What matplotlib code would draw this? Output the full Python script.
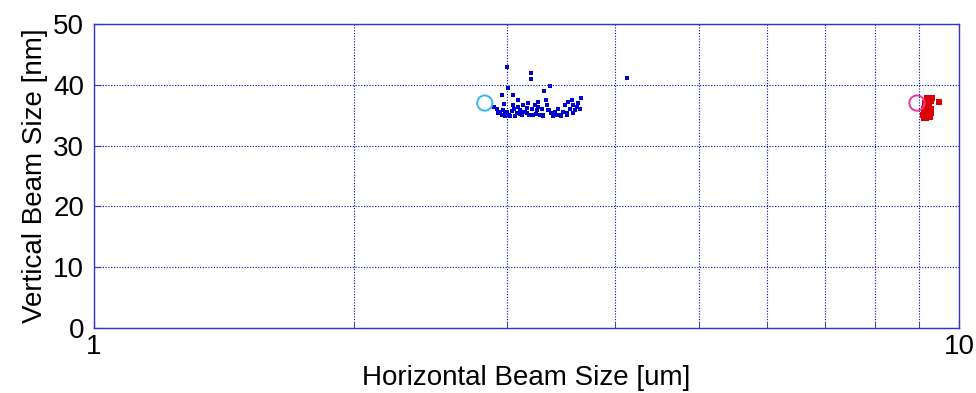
import matplotlib
matplotlib.use("Agg")
import matplotlib.pyplot as plt
from matplotlib.ticker import FixedLocator, NullFormatter, FixedFormatter

plt.rcParams['font.family'] = ['Liberation Sans', 'DejaVu Sans']

# Blue measurement points (horizontal um, vertical nm)
blue_x = [2.901, 2.922, 2.943, 2.961, 2.974, 2.987, 3.000, 3.021, 3.040, 3.048,
          3.059, 3.081, 3.094, 3.108, 3.122, 3.136, 3.150, 3.164, 3.178, 3.187,
          3.206, 3.220, 3.234, 3.249, 3.263, 3.278, 3.292, 3.307, 3.330, 3.342,
          3.360, 3.372, 3.390, 3.411, 3.426, 3.441, 3.463, 3.481, 3.503, 3.518,
          3.534, 3.550, 3.566, 3.582, 3.598, 3.614, 3.630, 3.646,
          3.000, 3.200, 3.200, 4.130, 3.370, 3.010, 2.960, 3.050, 3.310, 3.660,
          2.930, 2.990, 3.030, 3.110, 3.170, 3.240, 3.300, 3.400, 3.450, 3.520,
          3.580, 3.090, 3.140, 3.260, 3.350, 2.980, 3.070]
blue_y = [36.4, 36.1, 35.6, 35.1, 35.9, 34.9, 35.5, 35.0, 35.7, 36.7,
          36.1, 35.3, 37.5, 35.9, 35.0, 36.7, 35.6, 36.2, 37.0, 35.1,
          36.1, 35.0, 36.7, 35.9, 37.2, 35.1, 36.1, 34.8, 37.5, 36.7,
          35.9, 35.3, 34.8, 35.6, 35.0, 36.1, 34.8, 35.6, 36.7, 35.3,
          37.2, 36.1, 37.5, 36.7, 35.9, 36.4, 37.0, 36.1,
          43.0, 41.9, 40.9, 41.1, 39.8, 39.4, 38.4, 38.4, 38.9, 37.9,
          35.3, 35.5, 34.9, 35.2, 35.4, 35.2, 35.0, 35.3, 35.0, 35.1,
          35.4, 36.3, 35.5, 36.4, 35.8, 36.9, 34.9]

# Red measurement points
red_x = [9.08, 9.10, 9.12, 9.14, 9.16, 9.18, 9.20, 9.22, 9.24, 9.26,
         9.10, 9.13, 9.15, 9.18, 9.21, 9.24, 9.27, 9.12, 9.16, 9.20,
         9.25, 9.29, 9.14, 9.19, 9.23, 9.18, 9.30, 9.49, 9.27, 9.22]
red_y = [35.0, 35.3, 34.7, 35.6, 35.1, 34.8, 35.4, 35.9, 35.2, 35.6,
         36.0, 36.4, 35.8, 36.6, 36.2, 36.8, 36.0, 34.6, 34.5, 34.9,
         34.7, 35.3, 37.0, 37.1, 36.5, 37.9, 37.9, 37.2, 37.3, 35.7]

# Reference (design) points
ref_blue_x = [2.83]
ref_blue_y = [37.0]
ref_red_x = [8.94]
ref_red_y = [37.0]

x_ticks = [1, 10]
x_ticklabels = ['1', '10']
y_ticks = [0, 10, 20, 30, 40, 50]

fig = plt.figure(figsize=(9.76, 3.93), dpi=100)
ax = fig.add_axes([0.0963, 0.1654, 0.8863, 0.7735])

ax.set_xscale('log')
ax.set_xlim(1, 10)
ax.set_ylim(0, 50)

ax.scatter(blue_x, blue_y, marker='s', s=12, color='#0000cc', linewidths=0, zorder=3)
ax.scatter(red_x, red_y, marker='s', s=16, color='#dd0000', linewidths=0, zorder=3)
ax.scatter(ref_blue_x, ref_blue_y, marker='o', s=120, facecolors='none',
           edgecolors='#33bbee', linewidths=1.4, zorder=4)
ax.scatter(ref_red_x, ref_red_y, marker='o', s=120, facecolors='none',
           edgecolors='#ee3399', linewidths=1.4, zorder=4)

ax.xaxis.set_major_locator(FixedLocator(x_ticks))
ax.xaxis.set_major_formatter(FixedFormatter(x_ticklabels))
ax.xaxis.set_minor_locator(FixedLocator([2, 3, 4, 5, 6, 7, 8, 9]))
ax.xaxis.set_minor_formatter(NullFormatter())
ax.set_yticks(y_ticks)

ax.grid(True, which='both', axis='x', color='#0000cc', linestyle=(0, (1, 1.5)), linewidth=0.8)
ax.grid(True, which='major', axis='y', color='#0000cc', linestyle=(0, (1, 1.5)), linewidth=0.8)

for sp in ax.spines.values():
    sp.set_color('#3333cc')
    sp.set_linewidth(1.0)

ax.tick_params(which='both', direction='in', color='#3333cc', labelsize=20,
               labelcolor='black', top=False, right=False)
ax.tick_params(which='major', length=5)
ax.tick_params(which='minor', length=4)
ax.tick_params(axis='x', pad=4)
ax.tick_params(axis='y', pad=7)

ax.set_xlabel('Horizontal Beam Size [um]', fontsize=20, labelpad=4)
ax.set_ylabel('Vertical Beam Size [nm]', fontsize=20, labelpad=4)

fig.savefig('out.png', dpi=100)
